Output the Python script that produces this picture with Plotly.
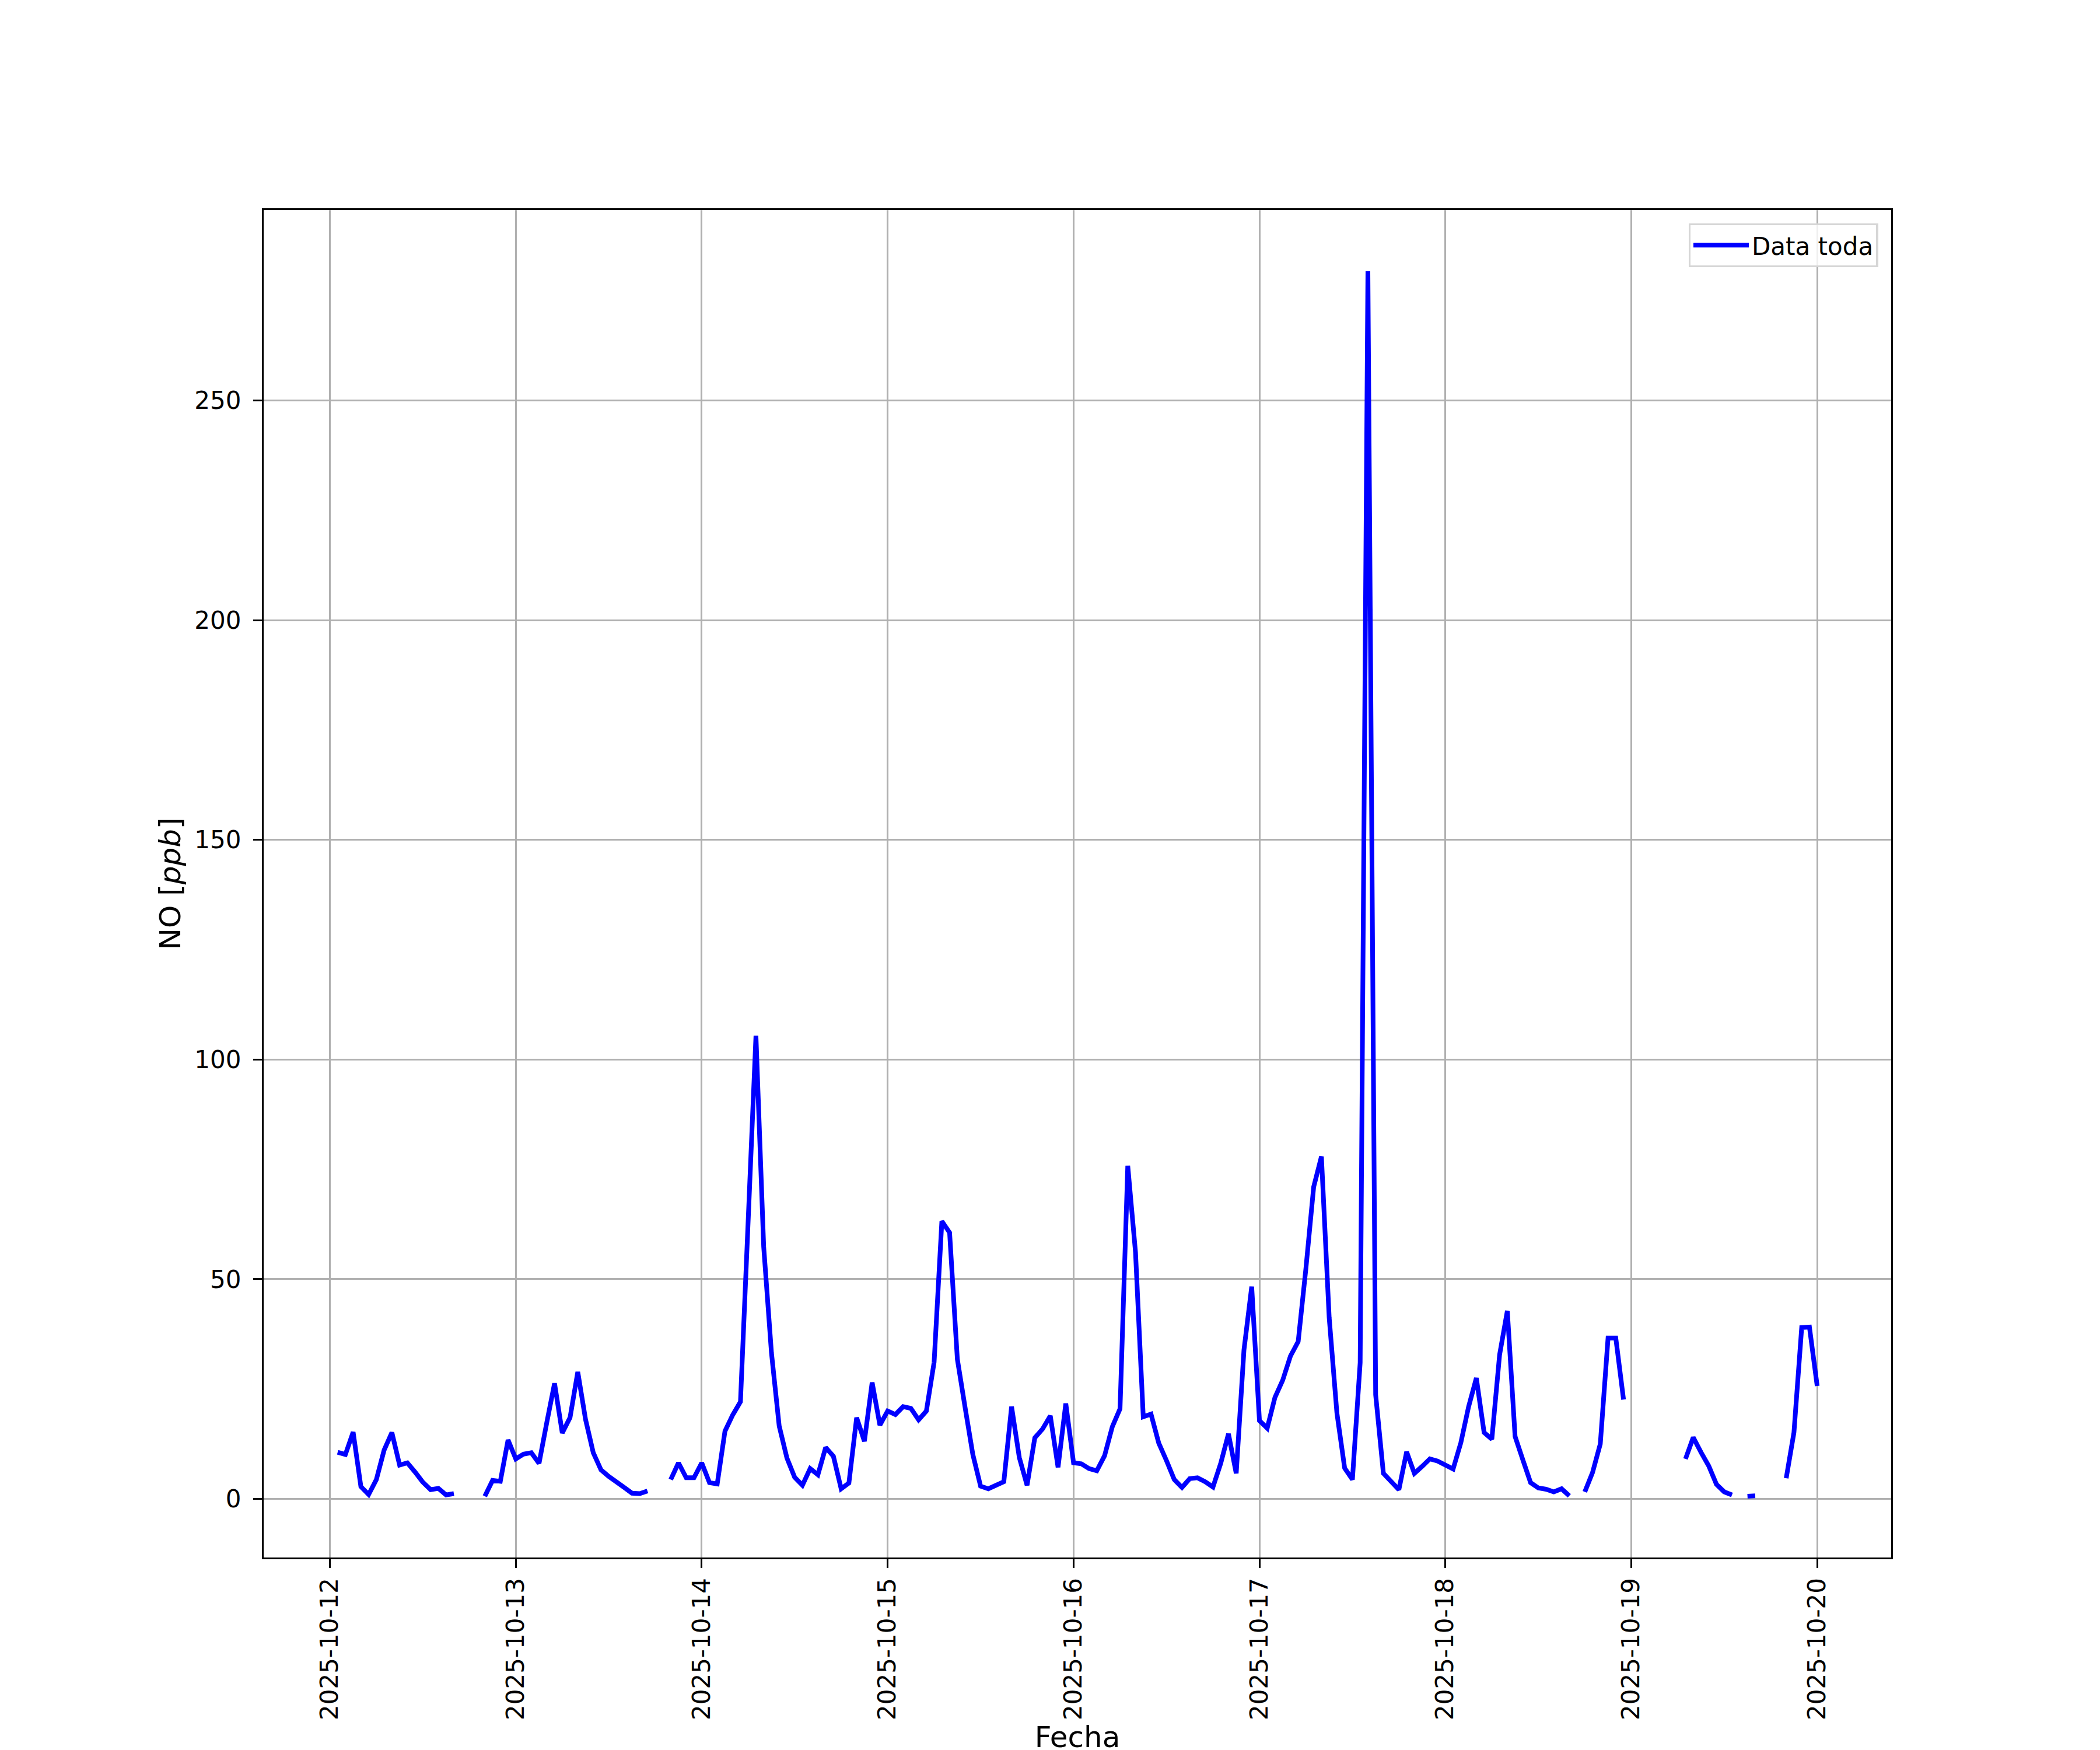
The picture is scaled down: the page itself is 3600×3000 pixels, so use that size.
import pandas as pd
import plotly.graph_objects as go

# Hourly NO concentration [ppb]; series starts 2025-10-12 01:00. None = missing hour.
start_time = "2025-10-12 01:00"
no_oct12 = [10.6, 10.1, 15.2, 2.8, 1.0, 4.4, 11.1, 15.1, 7.7, 8.2, 6.1, 3.8, 2.1, 2.4, 0.9, 1.2,
            None, None, None, 0.6, 4.2, 4.0, 13.4]  # 01:00 .. 23:00
no_oct13 = [9.1, 10.2, 10.5, 8.1, 17.4, 26.3, 15.0, 18.5, 28.9, 18.1, 10.5, 6.6, 5.1, 4.0, 2.6, 1.3,
            1.2, 1.8, None, None, 4.4, 8.2, 4.8, 4.8]
no_oct14 = [8.2, 3.7, 3.4, 15.4, 19.1, 22.1, 63.5, 105.4, 57.4, 33.3, 16.6, 9.3, 4.9, 3.1, 6.9, 5.5,
            11.7, 9.7, 2.3, 3.6, 18.5, 13.1, 26.5, 16.8]
no_oct15 = [20.0, 19.2, 21.0, 20.6, 18.0, 20.0, 31.1, 63.2, 60.6, 31.8, 20.8, 10.1, 2.9, 2.3, 3.1, 3.9,
            21.0, 9.4, 3.1, 13.9, 15.9, 18.9, 7.2, 21.7]
no_oct16 = [8.2, 8.0, 6.9, 6.4, 9.8, 16.4, 20.5, 75.8, 56.1, 18.7, 19.3, 12.7, 8.7, 4.4, 2.6, 4.6,
            4.8, 3.9, 2.7, 8.1, 14.8, 5.8, 33.9, 48.3]
no_oct17 = [17.8, 16.1, 23.1, 27.0, 32.5, 35.8, 52.5, 71.0, 77.9, 41.3, 19.5, 7.0, 4.4, 31.0, 279.4, 23.7,
            5.8, 4.0, 2.1, 10.7, 5.8, 7.4, 9.1, 8.6]
no_oct18 = [7.7, 6.8, 12.8, 21.0, 27.5, 15.1, 13.6, 32.8, 42.8, 14.2, 8.9, 3.7, 2.5, 2.2, 1.6, 2.3,
            0.7, None, 1.6, 6.0, 12.5, 36.6, 36.6, 22.6]
no_oct19 = [None, None, None, None, None, None, None, 9.1, 14.0, 10.6, 7.5, 3.3, 1.6, 0.9, None, 0.6,
            0.7, None, None, None, 4.7, 15.1, 39.0, 39.1]
no_oct20 = [25.7]  # 00:00

values = no_oct12 + no_oct13 + no_oct14 + no_oct15 + no_oct16 + no_oct17 + no_oct18 + no_oct19 + no_oct20
times = pd.date_range(start_time, periods=len(values), freq="h")

tick_dates = pd.date_range("2025-10-12", "2025-10-20", freq="D")
y_ticks = [0, 50, 100, 150, 200, 250]

# matplotlib-like 5% auto margins
t0, t1 = times[0], times[-1]
pad_t = (t1 - t0) * 0.05
valid = [v for v in values if v is not None]
vmin, vmax = min(valid), max(valid)
pad_v = (vmax - vmin) * 0.05

FONT = "DejaVu Sans"
LW = 3.3

fig = go.Figure()
fig.add_trace(go.Scatter(
    x=times, y=values, mode="lines", name="Data toda",
    line=dict(color="#0000ff", width=8), connectgaps=False,
))

fig.update_layout(
    width=3600, height=3000,
    margin=dict(l=444, r=366, t=352, b=336),
    paper_bgcolor="white", plot_bgcolor="white",
    font=dict(family=FONT, size=42, color="black"),
    showlegend=True,
    legend=dict(
        x=0.992, y=0.99, xanchor="right", yanchor="top",
        bgcolor="rgba(255,255,255,0.8)", bordercolor="#d6d6d6", borderwidth=LW,
        font=dict(family=FONT, size=42, color="black"),
        itemwidth=95,
    ),
)

fig.update_xaxes(
    range=[t0 - pad_t, t1 + pad_t],
    tickmode="array", tickvals=tick_dates, ticktext=[d.strftime("%Y-%m-%d") for d in tick_dates],
    tickangle=-90,
    showline=True, linecolor="black", linewidth=LW, mirror=True,
    ticks="outside", ticklen=15, tickwidth=LW, tickcolor="black",
    showgrid=True, gridcolor="#b0b0b0", gridwidth=LW, zeroline=False,
    tickfont=dict(family=FONT, size=42, color="black"),
    title=dict(text="Fecha", font=dict(family=FONT, size=50, color="black"), standoff=12),
)
fig.update_yaxes(
    range=[vmin - pad_v, vmax + pad_v],
    tickmode="array", tickvals=y_ticks,
    showline=True, linecolor="black", linewidth=LW, mirror=True,
    ticks="outside", ticklen=15, tickwidth=LW, tickcolor="black",
    showgrid=True, gridcolor="#b0b0b0", gridwidth=LW, zeroline=False,
    tickfont=dict(family=FONT, size=42, color="black"),
    ticklabelstandoff=12,
    title=dict(text="NO [<i>ppb</i>]", font=dict(family=FONT, size=50, color="black"), standoff=8),
)

fig.write_html("out.html")
